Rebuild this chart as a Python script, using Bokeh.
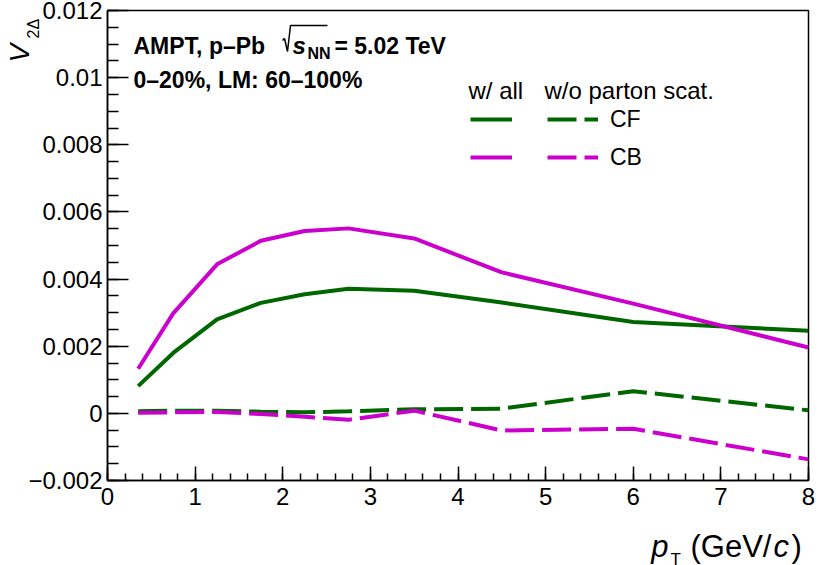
import math
from bokeh.plotting import figure
from bokeh.models import (Range1d, FixedTicker, Label, Legend, LegendItem)
from bokeh.embed import file_html
from bokeh.resources import INLINE

# ---------------- data ----------------
pt = [0.35, 0.75, 1.25, 1.75, 2.25, 2.75, 3.5, 4.5, 6.0, 8.0]
cf_all = [0.00081, 0.00180, 0.00280, 0.00329, 0.00355, 0.00371, 0.00365, 0.00330, 0.00272, 0.00246]
cb_all = [0.00133, 0.00298, 0.00444, 0.00514, 0.00543, 0.00551, 0.00521, 0.00420, 0.00327, 0.00196]
cf_nops = [0.00006, 0.00008, 0.00008, 0.00005, 0.00003, 0.00006, 0.00012, 0.00014, 0.00066, 0.00009]
cb_nops = [0.00002, 0.00003, 0.00004, -0.00002, -0.00010, -0.00019, 0.00008, -0.00051, -0.00046, -0.00137]

x_ticks = [0, 1, 2, 3, 4, 5, 6, 7, 8]
x_tick_labels = ["0", "1", "2", "3", "4", "5", "6", "7", "8"]
y_ticks = [-0.002, 0.0, 0.002, 0.004, 0.006, 0.008, 0.010, 0.012]
y_tick_labels = ["\u22120.002", "0", "0.002", "0.004", "0.006", "0.008", "0.01", "0.012"]

GREEN = "#006600"
MAGENTA = "#cc00cc"
FONT = "Liberation Sans"

# ---------------- figure ----------------
X0, X1, Y0, Y1 = 0.0, 8.0, -0.002, 0.012
FL, FR, FT, FB = 107, 808, 10, 480  # frame in page pixels
W, H = 830, 565

p = figure(width=W, height=H, frame_width=FR - FL, frame_height=FB - FT,
           x_range=Range1d(X0, X1), y_range=Range1d(Y0, Y1),
           output_backend="svg", toolbar_location=None,
           min_border_left=FL, min_border_right=W - FR,
           min_border_top=FT, min_border_bottom=H - FB)
p.background_fill_color = "white"
p.border_fill_color = "white"
p.outline_line_color = "black"
p.outline_line_width = 1.5
p.grid.visible = False


def dx(px):
    return X0 + (px - FL) / (FR - FL) * (X1 - X0)


def dy(py):
    return Y0 + (FB - py) / (FB - FT) * (Y1 - Y0)


xa = p.xaxis[0]
xa.ticker = FixedTicker(ticks=x_ticks,
                        minor_ticks=[i * 0.2 for i in range(41)])
xa.major_label_overrides = {t: l for t, l in zip(x_ticks, x_tick_labels)}
xa.major_tick_in = 14
xa.major_tick_out = 0
xa.minor_tick_in = 7
xa.minor_tick_out = 0
xa.major_label_standoff = 7
xa.major_label_text_font = FONT
xa.major_label_text_font_size = "24px"
xa.major_label_text_color = "black"
xa.axis_line_width = 1.5
xa.major_tick_line_width = 1.5
xa.minor_tick_line_width = 1.5

ya = p.yaxis[0]
ya.ticker = FixedTicker(ticks=y_ticks,
                        minor_ticks=[-0.002 + i * 0.0005 for i in range(29)])
ya.major_label_overrides = {t: l for t, l in zip(y_ticks, y_tick_labels)}
ya.major_tick_in = 21
ya.major_tick_out = 0
ya.minor_tick_in = 11
ya.minor_tick_out = 0
ya.major_label_standoff = 5
ya.major_label_text_font = FONT
ya.major_label_text_font_size = "24px"
ya.major_label_text_color = "black"
ya.axis_line_width = 1.5
ya.major_tick_line_width = 1.5
ya.minor_tick_line_width = 1.5

# ---------------- curves ----------------
DASH = "29 8"
r_cf = p.line(pt, cf_all, line_color=GREEN, line_width=4)
r_cb = p.line(pt, cb_all, line_color=MAGENTA, line_width=4)
r_cfn = p.line(pt, cf_nops, line_color=GREEN, line_width=4, line_dash=DASH)
r_cbn = p.line(pt, cb_nops, line_color=MAGENTA, line_width=4, line_dash=DASH)


# ---------------- legends ----------------
def make_legend(items, left_px, width, standoff):
    lg = Legend(items=items, location=(left_px - FL, FB - 171),
                glyph_width=width, glyph_height=28, label_height=28,
                label_width=10, spacing=10, padding=0, margin=0,
                label_standoff=standoff, border_line_color=None,
                background_fill_alpha=0, label_text_font=FONT,
                label_text_font_size="23px", label_text_color="black")
    p.add_layout(lg, "center")
    return lg


make_legend([LegendItem(label=" ", renderers=[r_cf]),
             LegendItem(label=" ", renderers=[r_cb])], 470, 42, 0)
make_legend([LegendItem(label="CF", renderers=[r_cfn]),
             LegendItem(label="CB", renderers=[r_cbn])], 547, 51, 12)


def label(px, py, text, size, style="normal", align="left", angle=0.0,
          place="center"):
    lb = Label(x=dx(px), y=dy(py), text=text, text_font=FONT,
               text_font_size=f"{size}px", text_font_style=style,
               text_align=align, text_baseline="alphabetic",
               text_color="black", angle=angle)
    p.add_layout(lb, place)
    return lb


label(468, 90, "w/ all", 24)
label(544, 90, "w/o parton scat.", 24)

# header text
label(133, 45, "AMPT, p\u2013Pb", 23, "bold")
label(292, 45, "s", 24, "bold italic")
label(307, 53, "NN", 16, "bold")
label(334, 45, "= 5.02 TeV", 23, "bold")
label(133, 79, "0\u201320%, LM: 60\u2013100%", 23, "bold")
# radical sign for sqrt(s_NN)
rad_x = [282, 284, 287, 290, 327]
rad_y = [40, 38, 51, 25, 25]
p.line([dx(v) for v in rad_x], [dy(v) for v in rad_y], line_color="black",
       line_width=1.5)

# axis titles (outside the frame, drawn in the bottom side panel)
label(19, 62, "V", 28, "italic", angle=math.pi / 2, place="below")
label(33, 38, "2\u0394", 16, angle=math.pi / 2, place="below")

label(668, 546, "p", 31, "italic", align="right", place="below")
label(670, 559, "T", 17, place="below")
label(690, 546, "(GeV/", 31, place="below")
label(773, 546, "c", 31, "italic", place="below")
label(791, 546, ")", 31, place="below")

open("out.html", "w").write(file_html(p, INLINE))
